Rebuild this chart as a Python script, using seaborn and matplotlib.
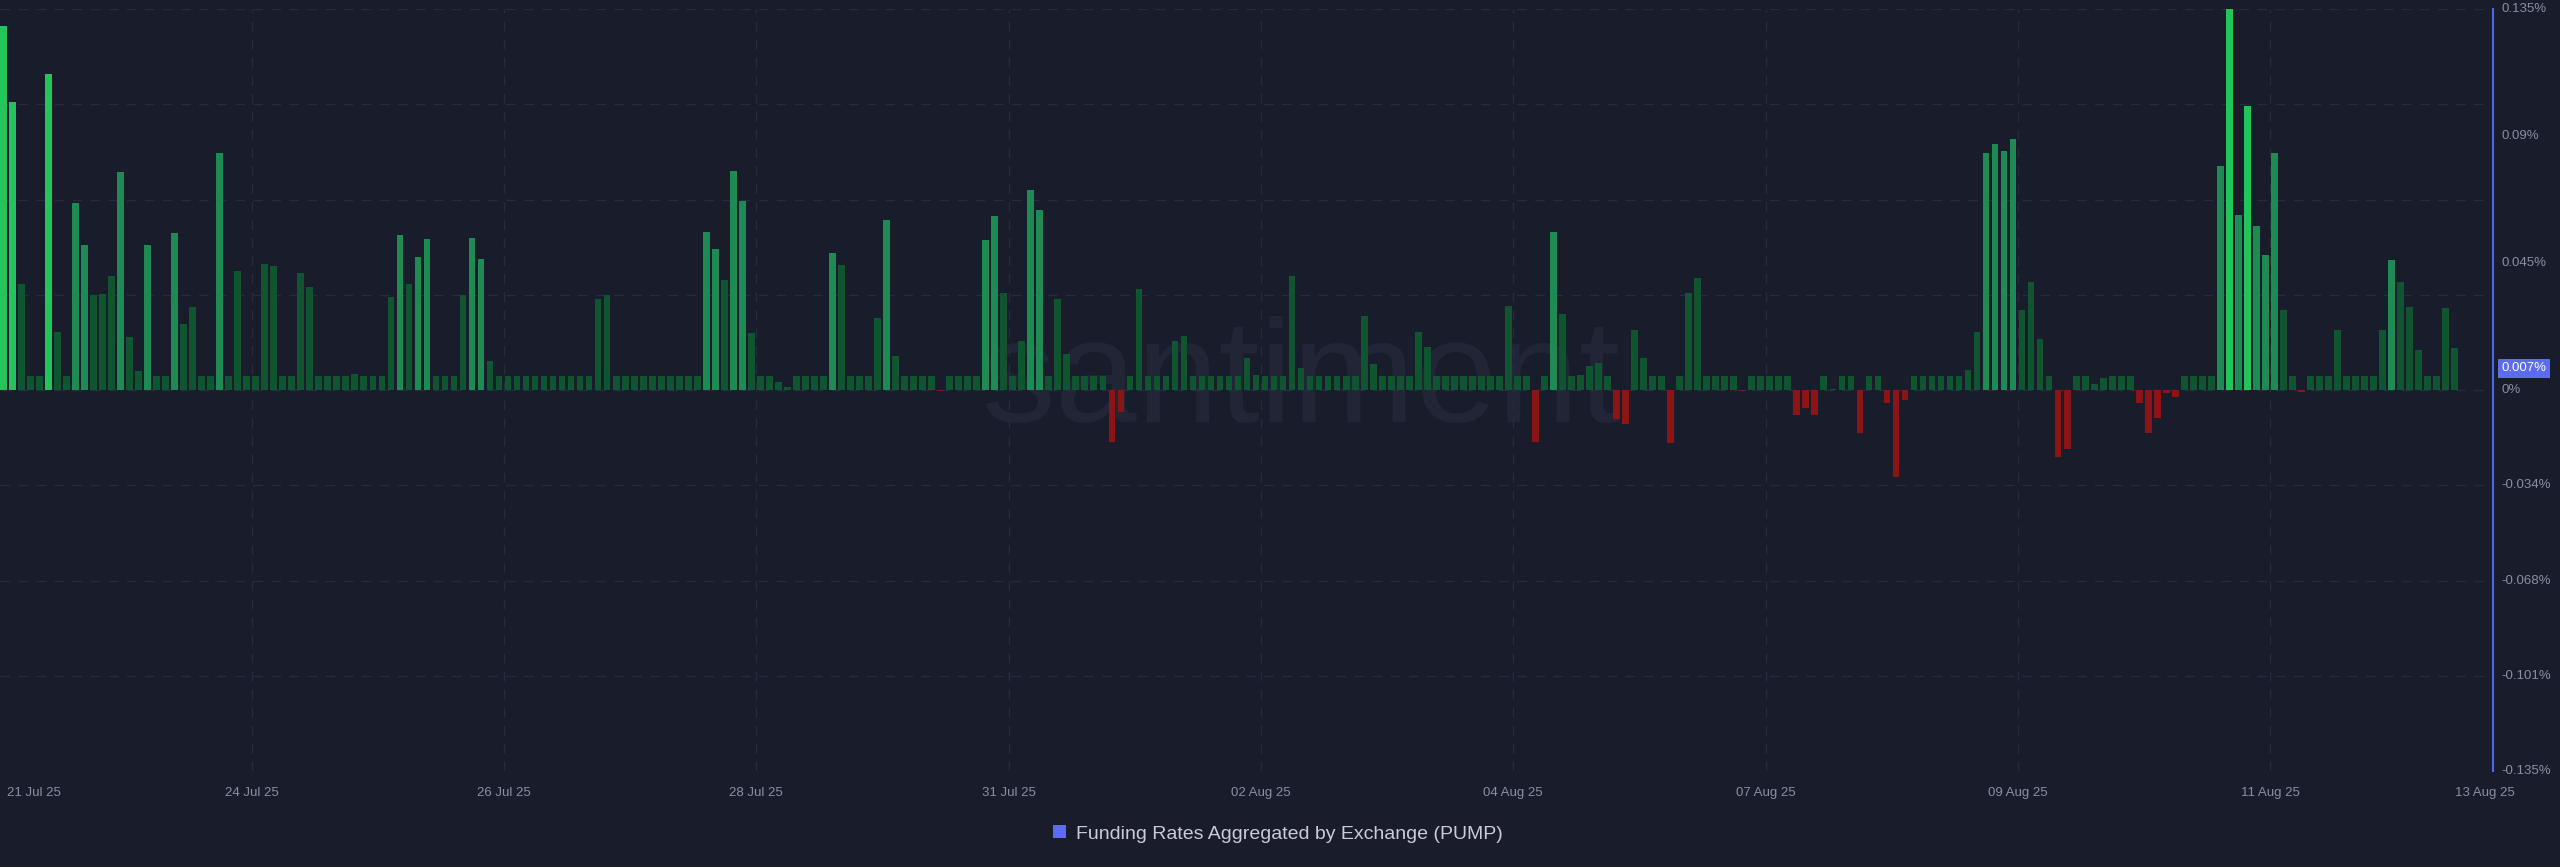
import numpy as np
import pandas as pd
import seaborn as sns
import matplotlib.pyplot as plt
from matplotlib.patches import Patch
import matplotlib.transforms as mtransforms

# ---------------- data (funding rate, %) ----------------
funding_rates = [
    # 0-9
    0.129, 0.102, 0.0376, 0.005, 0.005, 0.112, 0.0205, 0.005, 0.0661, 0.0515,
    # 10-19
    0.0337, 0.034, 0.0404, 0.0774, 0.0188, 0.0068, 0.0515, 0.005, 0.005, 0.0558,
    # 20-29
    0.0234, 0.0295, 0.005, 0.005, 0.0841, 0.005, 0.0422, 0.005, 0.005, 0.0446,
    # 30-39
    0.0441, 0.005, 0.005, 0.0415, 0.0365, 0.005, 0.005, 0.005, 0.005, 0.0055,
    # 40-49
    0.005, 0.005, 0.005, 0.033, 0.055, 0.0376, 0.0472, 0.0534, 0.005, 0.005,
    # 50-59
    0.005, 0.0337, 0.0537, 0.0464, 0.0101, 0.005, 0.005, 0.005, 0.005, 0.005,
    # 60-69
    0.005, 0.005, 0.005, 0.005, 0.005, 0.005, 0.0323, 0.0337, 0.005, 0.005,
    # 70-79
    0.005, 0.005, 0.005, 0.005, 0.005, 0.005, 0.005, 0.005, 0.0561, 0.05,
    # 80-89
    0.0388, 0.0776, 0.0669, 0.0203, 0.005, 0.005, 0.0028, 0.0012, 0.005, 0.005,
    # 90-99
    0.005, 0.005, 0.0485, 0.0442, 0.005, 0.005, 0.005, 0.0256, 0.0604, 0.012,
    # 100-109
    0.005, 0.005, 0.005, 0.005, -0.0005, 0.005, 0.005, 0.005, 0.005, 0.053,
    # 110-119
    0.0618, 0.0344, 0.005, 0.0172, 0.0708, 0.0638, 0.005, 0.0322, 0.0127, 0.005,
    # 120-129
    0.005, 0.005, 0.005, -0.0186, -0.0078, 0.005, 0.0357, 0.005, 0.005, 0.005,
    # 130-139
    0.0172, 0.0192, 0.005, 0.005, 0.005, 0.005, 0.005, 0.005, 0.0114, 0.0052,
    # 140-149
    0.005, 0.005, 0.005, 0.0403, 0.0079, 0.005, 0.005, 0.005, 0.005, 0.005,
    # 150-159
    0.005, 0.0262, 0.0093, 0.005, 0.005, 0.005, 0.005, 0.0207, 0.0151, 0.005,
    # 160-169
    0.005, 0.005, 0.005, 0.005, 0.005, 0.005, 0.005, 0.0298, 0.005, 0.005,
    # 170-179
    -0.0184, 0.005, 0.0561, 0.027, 0.005, 0.0052, 0.0086, 0.0094, 0.005, -0.0101,
    # 180-189
    -0.012, 0.0213, 0.0115, 0.005, 0.005, -0.0188, 0.005, 0.0344, 0.0396, 0.005,
    # 190-199
    0.005, 0.005, 0.005, -0.0003, 0.005, 0.005, 0.005, 0.005, 0.005, -0.0087,
    # 200-209
    -0.0064, -0.0087, 0.005, 0.0005, 0.005, 0.005, -0.0154, 0.005, 0.005, -0.0047,
    # 210-219
    -0.0307, -0.0035, 0.005, 0.005, 0.005, 0.005, 0.005, 0.005, 0.0072, 0.0206,
    # 220-229
    0.0838, 0.0873, 0.0847, 0.0888, 0.0283, 0.0383, 0.0181, 0.005, -0.0238, -0.021,
    # 230-239
    0.005, 0.005, 0.0022, 0.0042, 0.005, 0.005, 0.005, -0.0046, -0.0153, -0.0098,
    # 240-249
    -0.0009, -0.0025, 0.005, 0.005, 0.005, 0.005, 0.0792, 0.135, 0.062, 0.1007,
    # 250-259
    0.058, 0.048, 0.0838, 0.0283, 0.005, -0.0007, 0.005, 0.005, 0.005, 0.0212,
    # 260-269
    0.005, 0.005, 0.005, 0.005, 0.0213, 0.0461, 0.0383, 0.0295, 0.0143, 0.005,
    # 270-272
    0.005, 0.0291, 0.015,
]

x_tick_labels = ["21 Jul 25", "24 Jul 25", "26 Jul 25", "28 Jul 25", "31 Jul 25",
                 "02 Aug 25", "04 Aug 25", "07 Aug 25", "09 Aug 25", "11 Aug 25",
                 "13 Aug 25"]

y_tick_values = [0.135, 0.09, 0.045, 0.0, -0.03375, -0.0675, -0.10125, -0.135]
y_tick_labels = ["0.135%", "0.09%", "0.045%", "0%", "-0.034%", "-0.068%", "-0.101%", "-0.135%"]

last_value = 0.007
last_value_label = "0.007%"
series_name = "Funding Rates Aggregated by Exchange (PUMP)"

# ---------------- styling ----------------
BG = "#191c2b"
GRID = "#272b3d"
TEXT = "#8a8ea3"
AXIS_BLUE = "#4f66e8"
BRIGHT = "#22c55a"
MEDIUM = "#1e8b55"
DARK = "#0f5530"
RED = "#8c1414"

sns.set_theme(style="dark")
plt.rcParams["font.family"] = ["Liberation Sans", "DejaVu Sans"]


def bar_color(v):
    if v < 0:
        return RED
    if v >= 0.09:
        return BRIGHT
    if v >= 0.045:
        return MEDIUM
    return DARK


n = len(funding_rates)
keys = [f"b{i:03d}" for i in range(n)]
df = pd.DataFrame({"key": keys, "rate": funding_rates})
palette = {k: bar_color(v) for k, v in zip(keys, funding_rates)}

W, H = 2560, 867
fig = plt.figure(figsize=(W / 100, H / 100), dpi=100, facecolor=BG)
ax_left, ax_right, ax_top, ax_bot = 0, 2493, 9, 771
ax = fig.add_axes([ax_left / W, 1 - ax_bot / H, (ax_right - ax_left) / W, (ax_bot - ax_top) / H])
ax.set_facecolor(BG)

# watermark
ax.text(144.0, -0.0112, "santiment", ha="center", va="baseline", fontsize=106,
        color="#212536", zorder=0)

sns.barplot(data=df, x="key", y="rate", hue="key", palette=palette, legend=False,
            order=keys, hue_order=keys, width=0.74, saturation=1, linewidth=0,
            ax=ax, zorder=3)

ax.set_xlim(-0.37, 276.25)
ax.set_ylim(-0.135, 0.135)
ax.set_xticks([])
ax.set_yticks([])
ax.set_xlabel("")
ax.set_ylabel("")
ax.grid(False)

for s in ["top", "left", "bottom"]:
    ax.spines[s].set_visible(False)
ax.spines["right"].set_color(AXIS_BLUE)
ax.spines["right"].set_linewidth(1.5)

# horizontal dashed grid
for k in range(-4, 5):
    ax.axhline(0.03375 * k, color=GRID, lw=1.0, dashes=(7, 6), zorder=1)

# x labels and vertical grid
first_grid, grid_step = 27.54, 28.0
label_pos = [3.4] + [first_grid + grid_step * j for j in range(9)] + [275.4]
for j, (pos, lab) in enumerate(zip(label_pos, x_tick_labels)):
    if 0 < j < len(x_tick_labels) - 1:
        ax.axvline(pos, color=GRID, lw=1.0, dashes=(7, 6), zorder=1)
    ax.text(pos, -0.135 - 0.0055, lab, ha="center", va="top", fontsize=9.5, color=TEXT)

# y labels on the right
trans = mtransforms.blended_transform_factory(ax.transAxes, ax.transData)
for v, lab in zip(y_tick_values, y_tick_labels):
    ax.text(1.0035, v, lab, transform=trans, ha="left", va="center", fontsize=9.5,
            color=TEXT, clip_on=False)
ax.text(1.0035, last_value + 0.0007, last_value_label, transform=trans, ha="left",
        va="center", fontsize=9.5, color="white", clip_on=False, zorder=10,
        bbox=dict(boxstyle="square,pad=0.25", facecolor="#5b6cf0", edgecolor="none"))

# legend
handle = Patch(facecolor="#5b6cf0", edgecolor="none", label=series_name)
fig.legend(handles=[handle], loc="center", bbox_to_anchor=(0.4992, 1 - 834 / H),
           frameon=False, fontsize=14, labelcolor="#c9cbd6", handlelength=0.65,
           handleheight=0.65, handletextpad=0.5)

fig.savefig("out.png", dpi=100, facecolor=BG)
